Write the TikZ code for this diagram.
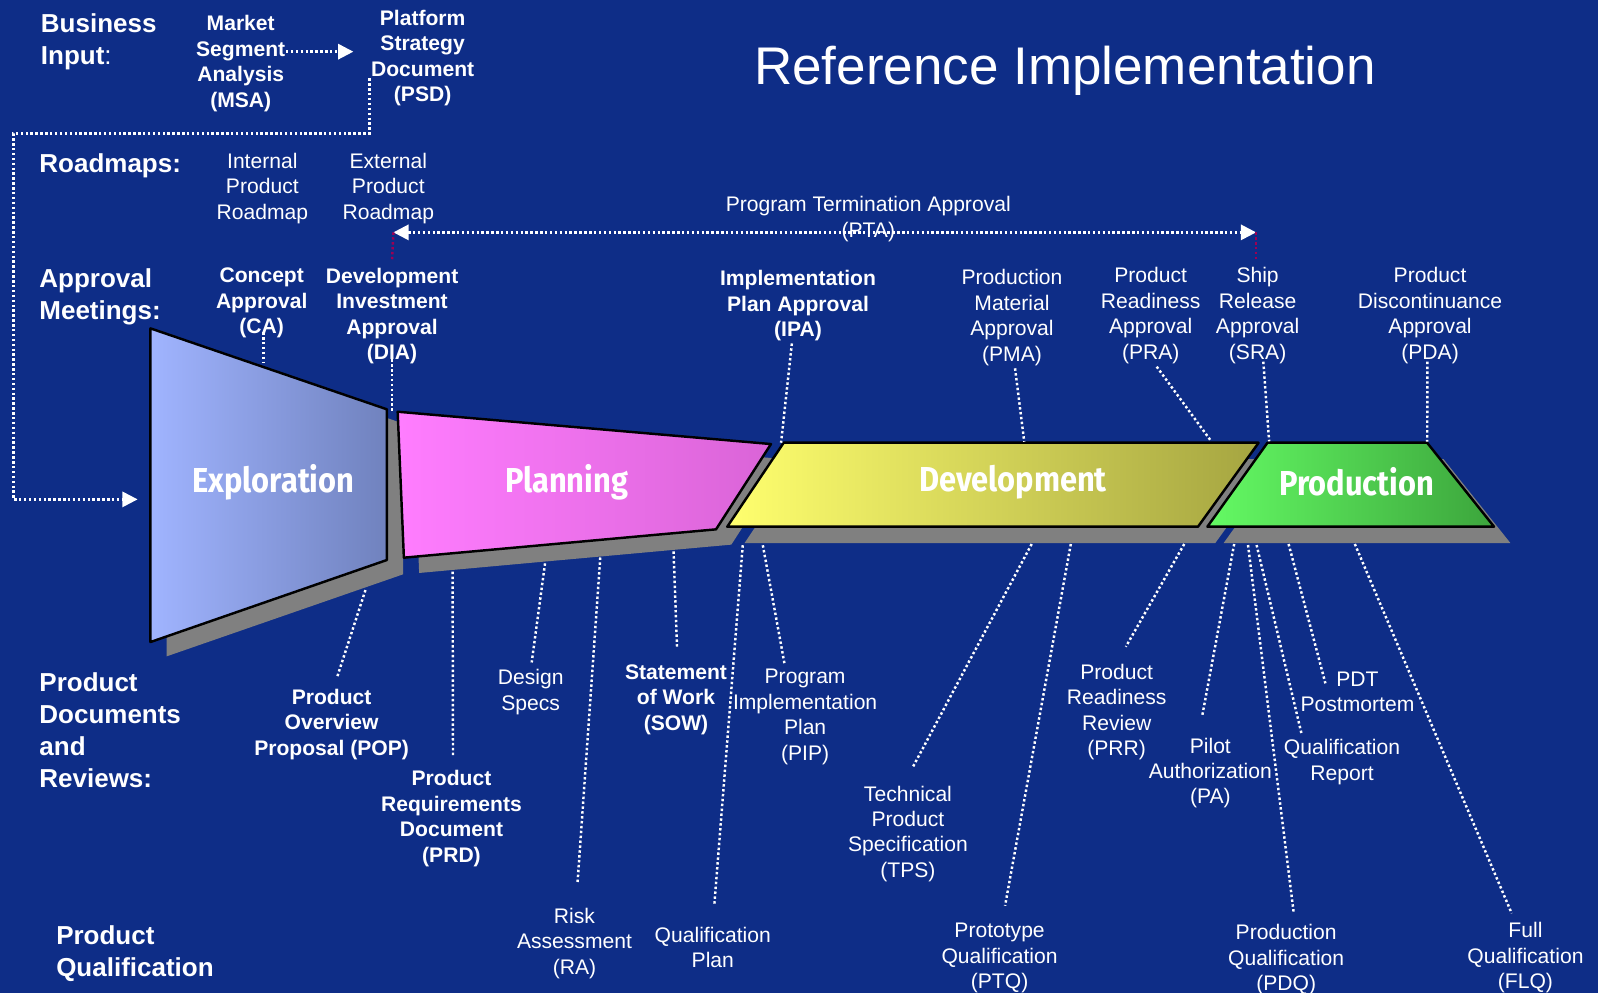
\documentclass[tikz,border=0pt]{standalone}
\usepackage{fontspec}
\setmainfont{Liberation Sans}
\newfontfamily\phasefont{Fira Sans}
\usetikzlibrary{arrows.meta}
\definecolor{bg}{RGB}{14,45,135}
\definecolor{shadowc}{RGB}{128,128,128}
\definecolor{maroonc}{RGB}{155,0,85}
\definecolor{expL}{RGB}{160,180,255}
\definecolor{expR}{RGB}{112,130,190}
\definecolor{plaL}{RGB}{255,125,255}
\definecolor{plaR}{RGB}{218,100,215}
\definecolor{devL}{RGB}{255,255,110}
\definecolor{devR}{RGB}{165,165,65}
\definecolor{proL}{RGB}{100,250,100}
\definecolor{proR}{RGB}{60,165,60}
\newcommand\phasetext[1]{\scalebox{0.89}[1]{#1}}
\begin{document}
\begin{tikzpicture}[x=1pt,y=-1pt,
  lbl/.style={text=white,align=center,inner sep=0pt,yshift=-2.5pt,font=\fontsize{20.7}{25}\selectfont},
  blbl/.style={lbl,font=\fontsize{20.7}{25}\selectfont\bfseries},
  head/.style={text=white,align=left,anchor=west,inner sep=0pt,yshift=-2.5pt,font=\fontsize{25.5}{31.2}\selectfont\bfseries},
  dotline/.style={draw=white,line width=2.4pt,dash pattern=on 2.4pt off 2.4pt},
  redline/.style={draw=maroonc,line width=2.4pt,dash pattern=on 2.4pt off 2.4pt},
  tip/.style={-{Triangle[length=15pt,width=15pt]}},
  phasebox/.style={draw=black,line width=2.4pt,line join=round},
  phase/.style={text=white,font=\phasefont\bfseries\fontsize{34}{34}\selectfont}
]
% canvas
\useasboundingbox (0,0) rectangle (1568,974);
\fill[bg] (0,0) rectangle (1568,974);

% drop shadows of the four phases
\fill[shadowc] (163.6,336.2) -- (395.6,415.6) -- (395.6,563.5) -- (163.6,644) -- cycle;
\fill[shadowc] (405.2,419) -- (771.5,450.7) -- (717.6,534.4) -- (411.3,562.2) -- cycle;
\fill[shadowc] (786,450.4) -- (1252,450.4) -- (1192.5,532.8) -- (730.6,532.8) -- cycle;
\fill[shadowc] (1259.7,450.4) -- (1416.3,450.4) -- (1482,532.8) -- (1200.7,532.8) -- cycle;

% phase outlines
\coordinate (eTL) at (147.6,322.2); \coordinate (eTR) at (379.6,401.6);
\coordinate (eBR) at (379.6,549.5); \coordinate (eBL) at (147.6,630);
\coordinate (pTL) at (390.2,404);   \coordinate (pTR) at (756.5,435.7);
\coordinate (pBR) at (702.6,519.4); \coordinate (pBL) at (396.3,547.2);
\coordinate (dTL) at (769,434.4);   \coordinate (dTR) at (1235,434.4);
\coordinate (dBR) at (1175.5,516.8);\coordinate (dBL) at (713.6,516.8);
\coordinate (rTL) at (1243.7,434.4);\coordinate (rTR) at (1400.3,434.4);
\coordinate (rBR) at (1466,516.8);  \coordinate (rBL) at (1184.7,516.8);

\draw[phasebox,left color=expL,right color=expR] (eTL) -- (eTR) -- (eBR) -- (eBL) -- cycle;
\draw[phasebox,left color=plaL,right color=plaR] (pTL) -- (pTR) -- (pBR) -- (pBL) -- cycle;
\draw[phasebox,left color=devL,right color=devR] (dTL) -- (dTR) -- (dBR) -- (dBL) -- cycle;
\draw[phasebox,left color=proL,right color=proR] (rTL) -- (rTR) -- (rBR) -- (rBL) -- cycle;

\node[phase] (exploration) at (268.3,473) {\phasetext{Exploration}};
\node[phase] (planning) at (556,473) {\phasetext{Planning}};
\node[phase] (development) at (994,473) {\phasetext{Development}};
\node[phase] (production) at (1331,473) {\phasetext{Production}};

% title
\node[text=white,inner sep=0pt,anchor=base,font=\fontsize{52}{60}\selectfont] (title) at (1045,83) {Reference Implementation};

% row headings
\node[head] (hbiz) at (40,38.5) {Business\\Input{\mdseries:}};
\node[head] (hroad) at (38.5,160) {Roadmaps:};
\node[head] (happ) at (38.5,288.5) {Approval\\Meetings:};
\node[head] (hdoc) at (38.5,714) {Product\\Documents\\and\\Reviews:};
\node[head] (hqual) at (55,933) {Product\\Qualification};

% business input
\node[blbl] (msa) at (236.2,59.7) {Market\\Segment\\Analysis\\(MSA)};
\node[blbl] (psd) at (414.7,54.6) {Platform\\Strategy\\Document\\(PSD)};
\coordinate (msa-out) at (280.6,50.7);
\coordinate (psd-in) at (346.7,50.7);
\draw[dotline,tip] (msa-out) -- (psd-in);
\coordinate (psd-out) at (362.4,76.9);
\coordinate (route-a) at (362.4,130.8);
\coordinate (route-b) at (13.1,130.8);
\coordinate (route-c) at (13.1,490);
\coordinate (expl-in) at (135,490);
\draw[dotline,tip] (psd-out) -- (route-a) -- (route-b) -- (route-c) -- (expl-in);

% roadmaps
\node[lbl] (irm) at (257.4,182.4) {Internal\\Product\\Roadmap};
\node[lbl] (erm) at (381,182.4) {External\\Product\\Roadmap};

% program termination approval span
\coordinate (ptaL) at (386,228);
\coordinate (ptaR) at (1232.5,228);
\draw[dotline,{Triangle[length=15pt,width=15pt]}-{Triangle[length=15pt,width=15pt]}] (ptaL) -- (ptaR);
\coordinate (ptaL-d) at (384.7,255);
\coordinate (ptaR-d) at (1232.5,255);
\draw[redline] (ptaL) -- (ptaL-d);
\draw[redline] (ptaR) -- (ptaR-d);
\node[lbl] (pta) at (852,212.6) {Program Termination Approval\\(PTA)};

% approval meetings
\node[blbl] (ca) at (256.8,295) {Concept\\Approval\\(CA)};
\node[blbl] (dia) at (384.7,307.5) {Development\\Investment\\Approval\\(DIA)};
\node[blbl] (ipa) at (783,297.4) {Implementation\\Plan Approval\\(IPA)};
\node[lbl] (pma) at (993,308.9) {Production\\Material\\Approval\\(PMA)};
\node[lbl] (pra) at (1129.1,307.1) {Product\\Readiness\\Approval\\(PRA)};
\node[lbl] (sra) at (1234,307.3) {Ship\\Release\\Approval\\(SRA)};
\node[lbl] (pda) at (1403.2,307.1) {Product\\Discontinuance\\Approval\\(PDA)};

\coordinate (ca-a) at (258.4,326);    \coordinate (ca-b) at (258.4,356.5);
\coordinate (dia-a) at (384.7,352.6); \coordinate (dia-b) at (384.7,403);
\coordinate (ipa-a) at (777,337);     \coordinate (ipa-b) at (766.4,434.4);
\coordinate (pma-a) at (996,361.4);   \coordinate (pma-b) at (1005,433.4);
\coordinate (pra-a) at (1135,359.8);  \coordinate (pra-b) at (1188.8,433.4);
\coordinate (sra-a) at (1239.6,354.9);\coordinate (sra-b) at (1245.3,433);
\coordinate (pda-a) at (1400.6,354.9);\coordinate (pda-b) at (1400.4,433.4);
\foreach \n in {ca,dia,ipa,pma,pra,sra,pda}
  \draw[dotline] (\n-a) -- (\n-b);

% documents, reviews and qualification
\node[blbl] (pop) at (325.4,708.3) {Product\\Overview\\Proposal (POP)};
\node[blbl] (prd) at (443,800.8) {Product\\Requirements\\Document\\(PRD)};
\node[lbl] (ds) at (520.7,676.5) {Design\\Specs};
\node[lbl] (ra) at (563.7,922.9) {Risk\\Assessment\\(RA)};
\node[blbl] (sow) at (663.3,683.8) {Statement\\of Work\\(SOW)};
\node[lbl] (qp) at (699.4,927) {Qualification\\Plan};
\node[lbl] (pip) at (790,701) {Program\\Implementation\\Plan\\(PIP)};
\node[lbl] (tps) at (890.9,815.6) {Technical\\Product\\Specification\\(TPS)};
\node[lbl] (ptq) at (980.8,937.7) {Prototype\\Qualification\\(PTQ)};
\node[lbl] (prr) at (1095.7,696) {Product\\Readiness\\Review\\(PRR)};
\node[lbl] (pa) at (1187.6,756) {Pilot\\Authorization\\(PA)};
\node[lbl] (pdq) at (1262,939.4) {Production\\Qualification\\(PDQ)};
\node[lbl] (qr) at (1316.8,745.3) {Qualification\\Report};
\node[lbl] (pdt) at (1332,676.2) {PDT\\Postmortem};
\node[lbl] (flq) at (1496.8,937.3) {Full\\Qualification\\(FLQ)};

\coordinate (pop-a) at (358.6,579);   \coordinate (pop-b) at (330.4,665.6);
\coordinate (prd-a) at (444.1,561);   \coordinate (prd-b) at (444.5,743);
\coordinate (ds-a) at (534.8,552.8);  \coordinate (ds-b) at (521.7,650);
\coordinate (ra-a) at (589,547);      \coordinate (ra-b) at (566.7,866.1);
\coordinate (sow-a) at (660.9,541);   \coordinate (sow-b) at (664.3,634.6);
\coordinate (qp-a) at (728.8,535);    \coordinate (qp-b) at (700.9,888);
\coordinate (pip-a) at (748.5,535);   \coordinate (pip-b) at (770,652.5);
\coordinate (tps-a) at (1012.3,533.8);\coordinate (tps-b) at (895,754);
\coordinate (ptq-a) at (1050.7,533.8);\coordinate (ptq-b) at (986.2,888.7);
\coordinate (prr-a) at (1162,533.8);  \coordinate (prr-b) at (1104.7,634.6);
\coordinate (pa-a) at (1211,533.8);   \coordinate (pa-b) at (1179.6,702.6);
\coordinate (pdq-a) at (1224.6,534.8);\coordinate (pdq-b) at (1269.4,895.6);
\coordinate (qr-a) at (1233,534.8);   \coordinate (qr-b) at (1277,719.6);
\coordinate (pdt-a) at (1264.4,533.8);\coordinate (pdt-b) at (1300.5,670.5);
\coordinate (flq-a) at (1329.4,533.8);\coordinate (flq-b) at (1483.3,896.2);
\foreach \n in {pop,prd,ds,ra,sow,qp,pip,tps,ptq,prr,pa,pdq,qr,pdt,flq}
  \draw[dotline] (\n-a) -- (\n-b);
\end{tikzpicture}
\end{document}
